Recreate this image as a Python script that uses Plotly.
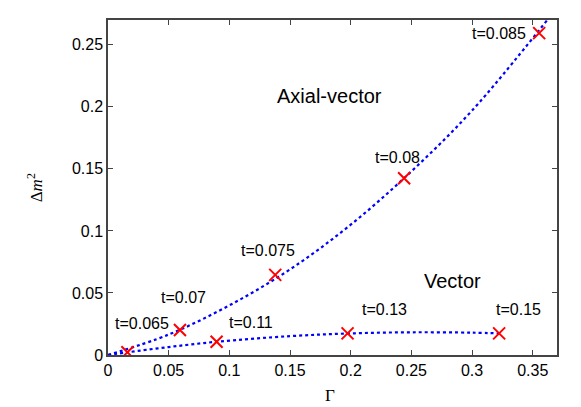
import plotly.graph_objects as go

# Data
axial_pts_x = [0.016, 0.0593, 0.1378, 0.244, 0.3553]
axial_pts_y = [0.0022, 0.0201, 0.0646, 0.1425, 0.2594]
axial_labels = ["t=0.065", "t=0.07", "t=0.075", "t=0.08", "t=0.085"]

vector_pts_x = [0.0895, 0.1974, 0.3223]
vector_pts_y = [0.0107, 0.0174, 0.0174]
vector_labels = ["t=0.11", "t=0.13", "t=0.15"]

axial_curve_x = [0, 0.05, 0.1, 0.15, 0.2, 0.25, 0.3, 0.362]
axial_curve_y = [0, 0.0165, 0.040, 0.069, 0.105, 0.148, 0.197, 0.27]

vector_curve_x = [0, 0.016, 0.05, 0.09, 0.15, 0.2, 0.25, 0.3, 0.323]
vector_curve_y = [0, 0.0022, 0.0064, 0.0107, 0.0152, 0.0174, 0.0183, 0.0180, 0.0174]

x_ticks = [0, 0.05, 0.1, 0.15, 0.2, 0.25, 0.3, 0.35]
y_ticks = [0, 0.05, 0.1, 0.15, 0.2, 0.25]

FONT = "Liberation Sans, Arial, sans-serif"
SERIF = "Liberation Serif, DejaVu Serif, serif"
AX = "#444444"

fig = go.Figure()
for cx, cy in [(axial_curve_x, axial_curve_y), (vector_curve_x, vector_curve_y)]:
    fig.add_trace(go.Scatter(x=cx, y=cy, mode="lines", line_shape="spline",
                             line=dict(color="#0000ff", width=2.2, dash="dot"),
                             hoverinfo="skip", showlegend=False))
fig.add_trace(go.Scatter(x=axial_pts_x + vector_pts_x, y=axial_pts_y + vector_pts_y,
                         mode="markers", showlegend=False,
                         marker=dict(symbol="x-thin", size=12, color="#ff0000",
                                     line=dict(color="#ff0000", width=2))))

label_pos = [(0.028, 0.0257), (0.0626, 0.0466), (0.1318, 0.0844), (0.2385, 0.1594),
             (0.3222, 0.2595), (0.1178, 0.026), (0.2282, 0.037), (0.3384, 0.037)]
for txt, (lx, ly) in zip(axial_labels + vector_labels, label_pos):
    fig.add_annotation(x=lx, y=ly, text=txt, showarrow=False,
                       font=dict(family=FONT, size=16, color="black"))
fig.add_annotation(x=0.1829, y=0.209, text="Axial-vector", showarrow=False,
                   font=dict(family=FONT, size=20, color="black"))
fig.add_annotation(x=0.284, y=0.0597, text="Vector", showarrow=False,
                   font=dict(family=FONT, size=20, color="black"))
fig.add_annotation(xref="paper", yref="paper", x=0.494, y=-0.122, text="Γ",
                   xanchor="center", yanchor="middle",
                   showarrow=False, font=dict(family=SERIF, size=17, color="black"))
fig.add_annotation(xref="paper", yref="paper", x=-0.163, y=0.50,
                   text="Δ<i>m</i><sup>2</sup>", textangle=-90,
                   xanchor="center", yanchor="middle",
                   showarrow=False, font=dict(family=SERIF, size=17, color="black"))

axis_common = dict(showgrid=False, zeroline=False, showline=True, linecolor=AX,
                   linewidth=1.5, mirror="ticks", ticks="inside", ticklen=5,
                   tickcolor=AX, tickwidth=1,
                   tickfont=dict(family=FONT, size=16, color="black"))
fig.update_xaxes(range=[0, 0.37], tickvals=x_ticks,
                 ticktext=[f"{v:g}" for v in x_ticks], **axis_common)
fig.update_yaxes(range=[0, 0.27], tickvals=y_ticks,
                 ticktext=[f"{v:g}" for v in y_ticks], **axis_common)

fig.update_layout(width=581, height=407, plot_bgcolor="white", paper_bgcolor="white",
                  margin=dict(l=108, r=24, t=20, b=52), showlegend=False)
fig.write_html("out.html", config={"displayModeBar": False},
               post_script="document.body.style.margin='0';")
